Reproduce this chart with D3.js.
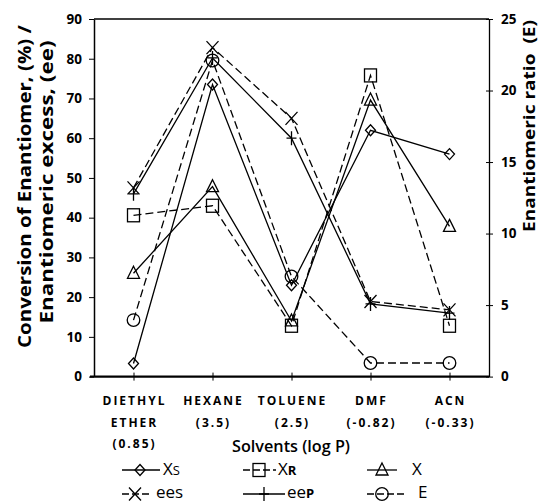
<!DOCTYPE html>
<html><head><meta charset="utf-8">
<script src="https://cdn.jsdelivr.net/npm/d3@7"></script>
<style>body{margin:0;background:#fff}svg{display:block}</style>
</head><body><svg id="c" width="546" height="503"></svg>
<script>
const categories = ["DIETHYL ETHER (0.85)", "HEXANE (3.5)", "TOLUENE (2.5)", "DMF (-0.82)", "ACN (-0.33)"];
const catLines = [["DIETHYL","ETHER","(0.85)"],["HEXANE","(3.5)"],["TOLUENE","(2.5)"],["DMF","(-0.82)"],["ACN","(-0.33)"]];
const Xs  = [3.3, 73.5, 23, 62, 56];
const Xr  = [40.6, 43, 12.8, 75.8, 12.8];
const X   = [26, 47.8, 14, 69.6, 37.8];
const ees = [47.5, 82.8, 65, 18.9, 16.8];
const eep = [46, 80.2, 60, 18.3, 16];
const E   = [3.95, 22.1, 7.0, 0.95, 0.95];
const leftTicks = [0,10,20,30,40,50,60,70,80,90];
const rightTicks = [0,5,10,15,20,25];

const svg = d3.select("#c");
const L=94, R=489, T=19, B=376.6;
const x = d3.scalePoint().domain(categories).range([L,R]).padding(0.5);
const yL = d3.scaleLinear().domain([0,90]).range([B,T]);
const yR = d3.scaleLinear().domain([0,25]).range([B,T]);
const font = "'Open Sans', 'DejaVu Sans', sans-serif";

// frame top
svg.append("line").attr("x1",L).attr("x2",R).attr("y1",T).attr("y2",T).attr("stroke","#000").attr("stroke-width",1.3);

// left axis
const ga = svg.append("g").attr("transform",`translate(${L},0)`)
  .call(d3.axisLeft(yL).tickValues(leftTicks).tickSize(5).tickPadding(7).tickSizeOuter(0));
ga.select(".domain").attr("stroke-width",1.5);
ga.selectAll("text").attr("font-family",font).attr("font-weight","bold").attr("font-size","13.5px").attr("fill","#000");

const gr = svg.append("g").attr("transform",`translate(${R},0)`)
  .call(d3.axisRight(yR).tickValues(rightTicks).tickSize(4).tickPadding(8).tickSizeOuter(0));
gr.select(".domain").attr("stroke-width",1.3);
gr.selectAll(".tick line").attr("x1",-3);
gr.selectAll("text").attr("font-family",font).attr("font-weight","bold").attr("font-size","13.5px").attr("fill","#000");

// bottom axis
const gb = svg.append("g").attr("transform",`translate(0,${B})`)
  .call(d3.axisBottom(x).tickSize(4).tickSizeOuter(0).tickFormat(""));
gb.select(".domain").attr("stroke-width",2.2).attr("d",`M${L-4},0H${R}`);
gb.selectAll(".tick line").attr("y1",-4);

// category labels
categories.forEach((c,i)=>{
  catLines[i].forEach((t,j)=>{
    svg.append("text").attr("x",x(c)+1).attr("y",405+j*21.5).attr("text-anchor","middle")
      .attr("font-family",font).attr("font-weight","bold").attr("font-size","12px")
      .attr("letter-spacing","2px").text(t);
  });
});

// axis titles
svg.append("text").attr("x",291).attr("y",452).attr("text-anchor","middle")
  .attr("font-family",font).attr("font-weight","600").attr("font-size","16px")
  .attr("textLength",118).attr("lengthAdjust","spacingAndGlyphs").text("Solvents (log P)");
svg.append("text").attr("transform","translate(31,186.5) rotate(-90)").attr("text-anchor","middle")
  .attr("font-family",font).attr("font-weight","bold").attr("font-size","17px")
  .attr("textLength",323).attr("lengthAdjust","spacingAndGlyphs").text("Conversion of Enantiomer, (%) /");
svg.append("text").attr("transform","translate(53,182) rotate(-90)").attr("text-anchor","middle")
  .attr("font-family",font).attr("font-weight","bold").attr("font-size","17px")
  .attr("textLength",283).attr("lengthAdjust","spacingAndGlyphs").text("Enantiomeric excess, (ee)");
svg.append("text").attr("transform","translate(535,126) rotate(-90)").attr("text-anchor","middle")
  .attr("font-family",font).attr("font-weight","bold").attr("font-size","16px").attr("xml:space","preserve")
  .attr("textLength",212).attr("lengthAdjust","spacingAndGlyphs").text("Enantiomeric ratio  (E)");

// markers
function marker(g, type, cx, cy){
  const s = g.append("g").attr("transform",`translate(${cx},${cy})`).attr("fill","none").attr("stroke","#000").attr("stroke-width",1.3);
  if(type==="diamond") s.append("path").attr("d","M0,-5.5L5,0L0,5.5L-5,0Z");
  else if(type==="square") s.append("rect").attr("x",-6).attr("y",-6.5).attr("width",12).attr("height",13);
  else if(type==="triangle") s.append("path").attr("d","M0,-7L6,5H-6Z");
  else if(type==="circle") s.append("circle").attr("r",6.3);
  else if(type==="x") s.append("path").attr("d","M-6,-6.5L6,6.5M-6,6.5L6,-6.5");
  else if(type==="plus") s.append("path").attr("d","M0,-7V7M-5,0H5");
}
const series = [
  {name:"Xs", v:Xs, y:yL, dash:null, m:"diamond"},
  {name:"Xr", v:Xr, y:yL, dash:"8,4", m:"square"},
  {name:"X", v:X, y:yL, dash:null, m:"triangle"},
  {name:"ees", v:ees, y:yL, dash:"8,4", m:"x"},
  {name:"eep", v:eep, y:yL, dash:null, m:"plus"},
  {name:"E", v:E, y:yR, dash:"8,4", m:"circle"}
];
const lineG = svg.append("g"), markG = svg.append("g");
series.forEach(s=>{
  const line = d3.line().x((d,i)=>x(categories[i])).y(d=>s.y(d));
  lineG.append("path").attr("d",line(s.v)).attr("fill","none").attr("stroke","#000").attr("stroke-width",1.3)
    .attr("stroke-dasharray",s.dash);
});
series.forEach(s=>{
  s.v.forEach((d,i)=>marker(markG, s.m, x(categories[i]), s.y(d)));
});

// legend
const legend = [
  {m:"diamond", dash:null, x1:122, x2:160, mx:140, label:["X","S"], tx:163, y:470, by:475},
  {m:"square", dash:"7,3", x1:243, x2:276, mx:259, label:["X","R"], tx:278, y:470, by:475},
  {m:"triangle", dash:null, x1:367, x2:397, mx:382, label:["X",""], tx:412, y:470, by:475},
  {m:"x", dash:"7,3", x1:122, x2:150, mx:135, label:["ees",""], tx:156, y:494, by:497.5},
  {m:"plus", dash:null, x1:243, x2:285, mx:264, label:["ee","P"], tx:287, y:494, by:497.5},
  {m:"circle", dash:"7,3", x1:367, x2:407, mx:382, label:["E",""], tx:418, y:494, by:497.5}
];
const lg = svg.append("g");
legend.forEach(d=>{
  lg.append("line").attr("x1",d.x1).attr("x2",d.x2).attr("y1",d.y).attr("y2",d.y)
    .attr("stroke","#000").attr("stroke-width",1.3).attr("stroke-dasharray",d.dash);
  marker(lg,d.m,d.mx,d.y);
  const t = lg.append("text").attr("x",d.tx).attr("y",d.by).attr("font-family",font).attr("font-size","17px");
  t.append("tspan").text(d.label[0]);
  if(d.label[1]) t.append("tspan").attr("font-size","13px").attr("font-weight",d.label[1]==="S"?"normal":"bold").text(d.label[1]);
});
</script></body></html>
